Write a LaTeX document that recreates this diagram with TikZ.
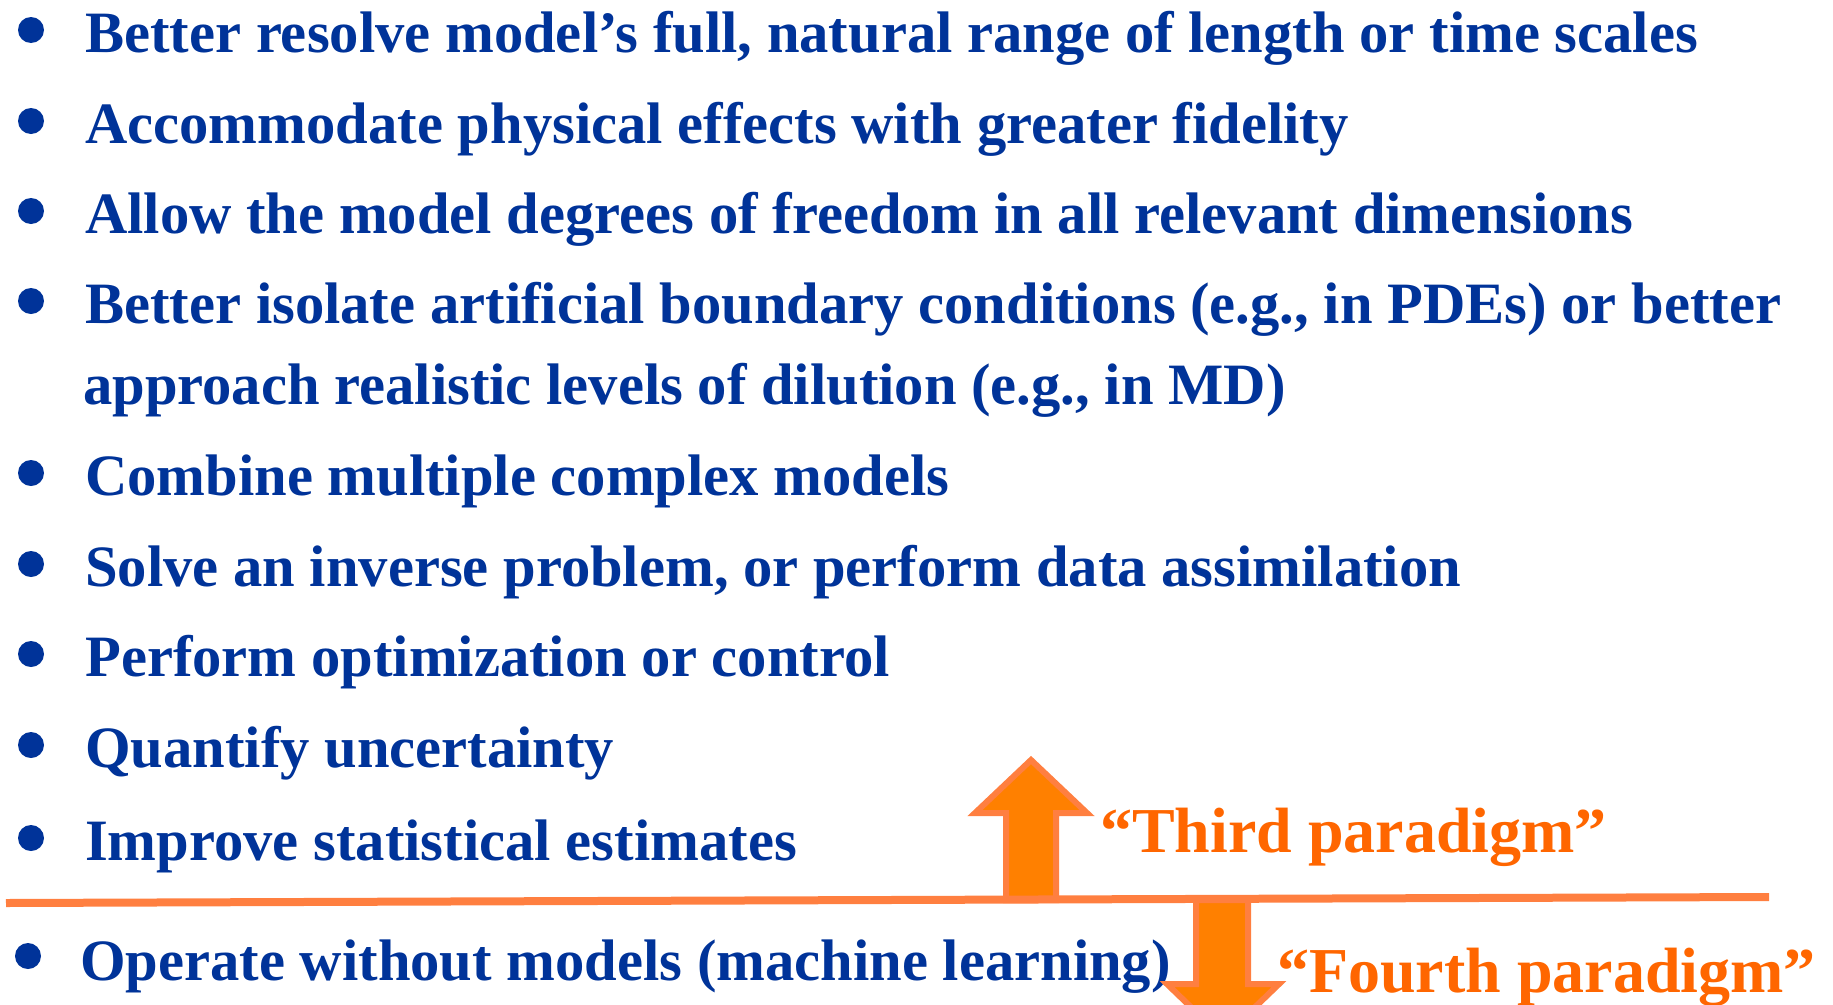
\documentclass[tikz,border=0pt]{standalone}
\usepackage{fontspec}
\setmainfont{Liberation Serif}
\usepackage{tikz}
\usetikzlibrary{positioning}
\definecolor{itemblue}{HTML}{003399}
\definecolor{paraorange}{HTML}{FF6600}
\definecolor{arrowfill}{HTML}{FF8000}
\definecolor{arrowedge}{HTML}{FF7F40}
\tikzstyle{item} = [anchor=base west, inner sep=0pt, text=itemblue, font=\fontsize{58.6}{58.6}\selectfont\bfseries]
\tikzstyle{dot} = [circle, fill=itemblue, inner sep=0pt, minimum size=26pt]
\tikzstyle{paradigm} = [anchor=base west, inner sep=0pt, text=paraorange, font=\fontsize{64}{64}\selectfont\bfseries]
\tikzstyle{bigarrow} = [draw=arrowedge, fill=arrowfill, line width=6pt, line join=miter]

\begin{document}
\begin{tikzpicture}[x=1pt,y=-1pt]
\useasboundingbox (0,0) rectangle (1833,1004);
% list of items above the rule
\node[dot] (b1) at (31,30) {};
\node[item] (t1) at (85,52) {Better resolve model’s full, natural range of length or time scales};
\node[dot] (b2) at (31,121) {};
\node[item] (t2) at (85,143) {Accommodate physical effects with greater fidelity};
\node[dot] (b3) at (31,211) {};
\node[item] (t3) at (85,233) {Allow the model degrees of freedom in all relevant dimensions};
\node[dot] (b4) at (31,301) {};
\node[item] (t4) at (85,323) {Better isolate artificial boundary conditions (e.g., in PDEs) or better};
\node[item] (t4b) at (83,404) {approach realistic levels of dilution (e.g., in MD)};
\node[dot] (b5) at (31,473) {};
\node[item] (t5) at (85,495) {Combine multiple complex models};
\node[dot] (b6) at (31,564) {};
\node[item] (t6) at (85,586) {Solve an inverse problem, or perform data assimilation};
\node[dot] (b7) at (31,654) {};
\node[item] (t7) at (85,676) {Perform optimization or control};
\node[dot] (b8) at (31,745) {};
\node[item] (t8) at (85,767) {Quantify uncertainty};
\node[dot] (b9) at (31,838) {};
\node[item] (t9) at (85,860) {Improve statistical estimates};
% below the rule
\node[dot] (b10) at (28,956) {};
\node[item] (t10) at (80,980) {Operate without models (machine learning)};
% block arrows
\draw[bigarrow] (1006,900) -- (1006,813) -- (975,813) -- (1031,760) -- (1087,813) -- (1056,813) -- (1056,900) -- cycle;
\draw[bigarrow] (1196,900) -- (1196,984) -- (1167,984) -- (1223,1038) -- (1279,984) -- (1248,984) -- (1248,900) -- cycle;
\draw[arrowedge, line width=8pt] (6,903) -- (1769,897);
\node[paradigm] (third) at (1100,852) {“Third paradigm”};
\node[paradigm] (fourth) at (1277,992) {“Fourth paradigm”};
\end{tikzpicture}
\end{document}
